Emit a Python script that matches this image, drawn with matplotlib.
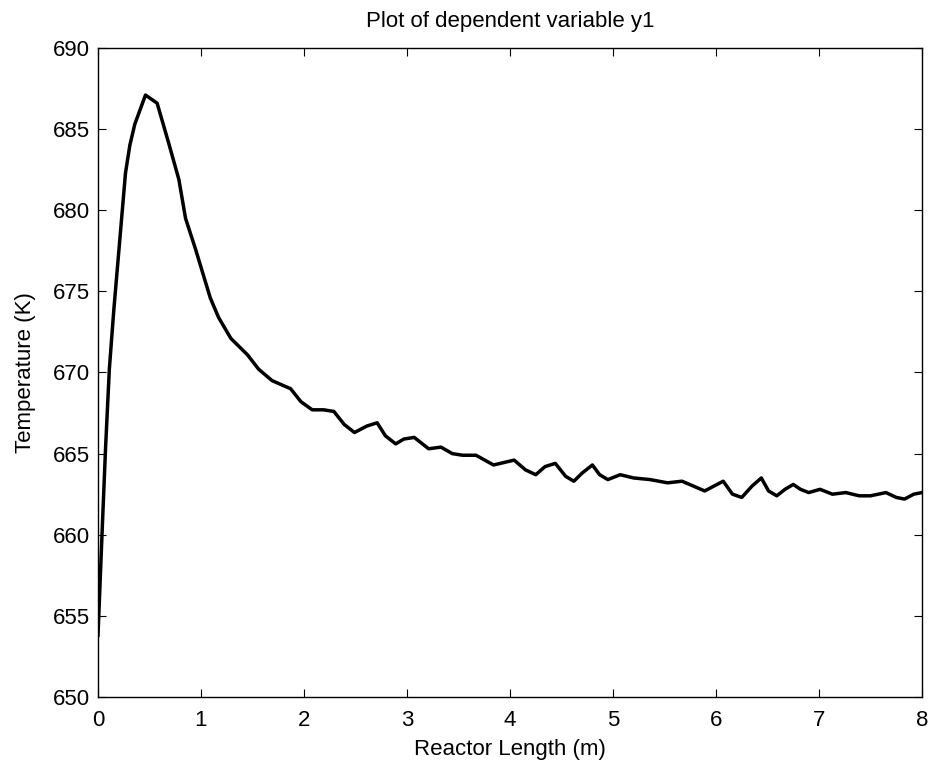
import matplotlib
matplotlib.use("Agg")
import matplotlib.pyplot as plt

plt.rcParams['font.family'] = ['Liberation Sans', 'DejaVu Sans']

reactor_length = [0, 0.04, 0.073, 0.11, 0.154, 0.267, 0.309, 0.357, 0.461, 0.574,
                  0.688, 0.785, 0.85, 0.947, 1.09, 1.17, 1.29, 1.45, 1.56, 1.69,
                  1.87, 1.97, 2.08, 2.19, 2.29, 2.39, 2.49, 2.61, 2.71, 2.79,
                  2.89, 2.97, 3.07, 3.21, 3.33, 3.44, 3.54, 3.67, 3.84, 4.04,
                  4.15, 4.25, 4.34, 4.44, 4.54, 4.62, 4.70, 4.80, 4.87, 4.95,
                  5.07, 5.20, 5.36, 5.53, 5.67, 5.78, 5.89, 5.98, 6.07, 6.16,
                  6.25, 6.35, 6.44, 6.51, 6.59, 6.67, 6.75, 6.82, 6.90, 7.01,
                  7.13, 7.26, 7.39, 7.50, 7.65, 7.75, 7.83, 7.92, 8.0]
temperature = [653.8, 660.2, 665.3, 670.2, 673.9, 682.3, 684.0, 685.3, 687.1, 686.6,
               684.1, 681.9, 679.5, 677.6, 674.6, 673.4, 672.1, 671.1, 670.2, 669.5,
               669.0, 668.2, 667.7, 667.7, 667.6, 666.8, 666.3, 666.7, 666.9, 666.1,
               665.6, 665.9, 666.0, 665.3, 665.4, 665.0, 664.9, 664.9, 664.3, 664.6,
               664.0, 663.7, 664.2, 664.4, 663.6, 663.3, 663.8, 664.3, 663.7, 663.4,
               663.7, 663.5, 663.4, 663.2, 663.3, 663.0, 662.7, 663.0, 663.3, 662.5,
               662.3, 663.0, 663.5, 662.7, 662.4, 662.8, 663.1, 662.8, 662.6, 662.8,
               662.5, 662.6, 662.4, 662.4, 662.6, 662.3, 662.2, 662.5, 662.6]

xticks = [0, 1, 2, 3, 4, 5, 6, 7, 8]
yticks = [650, 655, 660, 665, 670, 675, 680, 685, 690]

fig = plt.figure(figsize=(9.35, 7.68), dpi=100)
ax = fig.add_axes([98/935, 1 - 697/768, (922-98)/935, (697-48)/768])
ax.plot(reactor_length, temperature, color='black', linewidth=2.5)
ax.set_xlim(0, 8)
ax.set_ylim(650, 690)
ax.set_xticks(xticks)
ax.set_yticks(yticks)
ax.tick_params(direction='in', length=6, width=0.8, top=True, right=True,
               labelsize=16, colors='black')
ax.tick_params(axis='x', pad=9)
ax.tick_params(axis='y', pad=6)
for s in ax.spines.values():
    s.set_linewidth(1.0)
    s.set_color('black')
ax.set_xlabel('Reactor Length (m)', fontsize=16, labelpad=6)
ax.set_ylabel('Temperature (K)', fontsize=16, labelpad=12)
ax.set_title('Plot of dependent variable y1', fontsize=16, pad=15)
fig.savefig('out.png', dpi=100, facecolor='white')
